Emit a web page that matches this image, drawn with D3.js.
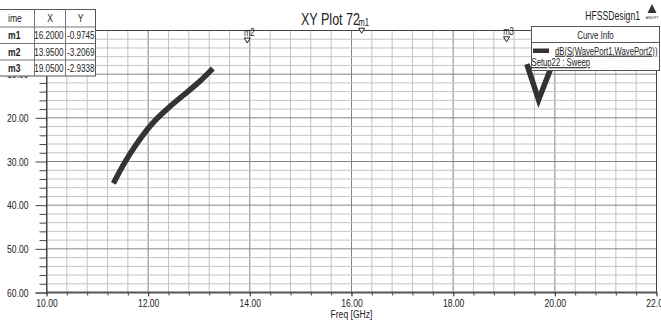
<!DOCTYPE html>
<html>
<head>
<meta charset="utf-8">
<script src="https://cdn.jsdelivr.net/npm/d3@7"></script>
<style>
  html, body { margin: 0; padding: 0; background: #fff; }
  svg { display: block; }
  text { font-family: "Liberation Sans", Arial, sans-serif; fill: #222; }
</style>
</head>
<body>
<script>
// Swept S-parameter trace, dB(S(WavePort1,WavePort2)) vs frequency
const lowBandFreq = [11.315, 11.545, 11.709, 12.037, 12.366, 12.693, 13.022, 13.272];
const lowBandDb   = [-35.0, -30.0, -27.0, -21.6, -18.0, -14.8, -11.7, -8.7];
const notchFreq   = [19.45, 19.68, 19.91, 19.98];
const notchDb     = [-7.7, -15.9, -9.0, -6.6];

// Marker table
const markerNames = ["m1", "m2", "m3"];
const markerFreq  = [16.2, 13.95, 19.05];
const markerDb    = [-0.9745, -3.2069, -2.9338];

// Axis ticks (the 0 dB label sits behind the marker table, so it is left blank)
const xTicks = [10, 12, 14, 16, 18, 20, 22];
const yTicks = [0, -10, -20, -30, -40, -50, -60];
const yTickLabels = ["", "10.00", "20.00", "30.00", "40.00", "50.00", "60.00"];

const W = 661, H = 320;
const plot = { left: 46.5, right: 656.5, top: 30.5, bottom: 292.5 };
const NARROW = 0.78; // condensed look for all labels

const svg = d3.select("body").append("svg").attr("width", W).attr("height", H);

// Text placed with a horizontal squeeze so it reads as a condensed face
function label(parent, px, py, str, size, opts = {}) {
  const sx = opts.sx || NARROW;
  return parent.append("text")
    .attr("transform", `translate(${px},${py}) scale(${sx},1)`)
    .attr("text-anchor", opts.anchor || "start")
    .attr("font-size", size)
    .attr("font-weight", opts.weight || "normal")
    .attr("text-decoration", opts.deco || null)
    .text(str);
}

const x = d3.scaleLinear().domain([10, 22]).range([plot.left, plot.right]);
const y = d3.scaleLinear().domain([0, -60]).range([plot.top, plot.bottom]);

// Fine grid: 0.4 GHz and 2 dB steps, heavier at the labelled ticks
const xMinor = d3.range(10, 22.0001, 0.4).map(v => +v.toFixed(2));
const yMinor = d3.range(0, -60.0001, -2);

const grid = svg.append("g");
grid.selectAll("line.vx").data(xMinor).join("line")
  .attr("x1", d => x(d)).attr("x2", d => x(d))
  .attr("y1", plot.top).attr("y2", plot.bottom)
  .attr("stroke", d => xTicks.includes(Math.round(d * 10) / 10) ? "#858585" : "#c4c4c4")
  .attr("stroke-width", 1);
grid.selectAll("line.hy").data(yMinor).join("line")
  .attr("x1", plot.left).attr("x2", plot.right)
  .attr("y1", d => y(d)).attr("y2", d => y(d))
  .attr("stroke", d => d % 10 === 0 ? "#858585" : "#c4c4c4")
  .attr("stroke-width", 1);

// Frame
svg.append("rect")
  .attr("x", plot.left).attr("y", plot.top)
  .attr("width", plot.right - plot.left).attr("height", plot.bottom - plot.top)
  .attr("fill", "none").attr("stroke", "#444").attr("stroke-width", 1);
svg.append("line")
  .attr("x1", plot.left).attr("x2", plot.right)
  .attr("y1", plot.bottom).attr("y2", plot.bottom)
  .attr("stroke", "#555").attr("stroke-width", 2);

// Y axis (left)
const yAxis = d3.axisLeft(y).tickValues(yTicks)
  .tickFormat((d, i) => yTickLabels[i]).tickSize(11).tickPadding(12);
const gy = svg.append("g").attr("transform", `translate(${plot.left},0)`).call(yAxis);
gy.select(".domain").attr("stroke", "#444");
gy.selectAll(".tick line").attr("stroke", "#444");
gy.selectAll(".tick text").attr("font-size", 11).attr("fill", "#222")
  .attr("transform", `scale(${NARROW},1)`);
const yMinorAxis = d3.axisLeft(y).tickValues(yMinor.filter(d => d % 10 !== 0))
  .tickFormat("").tickSize(7);
svg.append("g").attr("transform", `translate(${plot.left},0)`).call(yMinorAxis)
  .call(g => g.select(".domain").remove())
  .selectAll("line").attr("stroke", "#444");

// X axis (bottom)
const xAxis = d3.axisBottom(x).tickValues(xTicks)
  .tickFormat(d3.format(".2f")).tickSize(4).tickPadding(3);
const gx = svg.append("g").attr("transform", `translate(0,${plot.bottom})`).call(xAxis);
gx.select(".domain").remove();
gx.selectAll(".tick line").attr("stroke", "#444");
gx.selectAll(".tick text").attr("font-size", 11).attr("fill", "#222")
  .attr("transform", `scale(${NARROW},1)`);
const xMinorAxis = d3.axisBottom(x).tickValues(xMinor).tickFormat("").tickSize(3);
svg.append("g").attr("transform", `translate(0,${plot.bottom})`).call(xMinorAxis)
  .call(g => g.select(".domain").remove())
  .selectAll("line").attr("stroke", "#444");

label(svg, x(16), 317.5, "Freq [GHz]", 11, { anchor: "middle" });

// Trace
svg.append("clipPath").attr("id", "plotClip").append("rect")
  .attr("x", plot.left).attr("y", plot.top)
  .attr("width", plot.right - plot.left).attr("height", plot.bottom - plot.top);
const traceG = svg.append("g").attr("clip-path", "url(#plotClip)");
const lowLine = d3.line().x(d => x(d[0])).y(d => y(d[1])).curve(d3.curveBasis);
const notchLine = d3.line().x(d => x(d[0])).y(d => y(d[1])).curve(d3.curveLinear);
traceG.append("path").datum(d3.zip(lowBandFreq, lowBandDb))
  .attr("d", lowLine).attr("fill", "none").attr("stroke", "#333")
  .attr("stroke-width", 5.5);
traceG.append("path").datum(d3.zip(notchFreq, notchDb))
  .attr("d", notchLine).attr("fill", "none").attr("stroke", "#333")
  .attr("stroke-width", 5.5).attr("stroke-linejoin", "miter");

// Marker symbols with their names
const markerG = svg.append("g");
markerNames.forEach((name, i) => {
  const px = x(markerFreq[i]), py = y(markerDb[i]);
  const tipY = py - 1.5;
  markerG.append("path")
    .attr("d", `M${px - 3},${tipY - 5}L${px + 3},${tipY - 5}L${px},${tipY}Z`)
    .attr("fill", "#fff").attr("stroke", "#222").attr("stroke-width", 1);
  label(markerG, px + 2, tipY - 7, name, 10, { anchor: "middle" });
});

// Title and design name
label(svg, 330.5, 25, "XY Plot 72", 17, { anchor: "middle", sx: 0.74 });
label(svg, 640, 20, "HFSSDesign1", 12, { anchor: "end", sx: 0.72 });
svg.append("path").attr("d", "M652,4L656.5,13L647.5,13Z").attr("fill", "#333");
label(svg, 652, 18.5, "ANSOFT", 4, { anchor: "middle" });

// Marker table (top left)
const tbl = svg.append("g");
const colX = [-2, 34.5, 65.5, 95.5];
const rowY = [9.5, 27, 43.5, 60, 76];
tbl.append("rect").attr("x", colX[0]).attr("y", rowY[0])
  .attr("width", colX[3] - colX[0]).attr("height", rowY[4] - rowY[0])
  .attr("fill", "#fff").attr("stroke", "#555");
colX.slice(1, 3).forEach(cx => tbl.append("line")
  .attr("x1", cx).attr("x2", cx).attr("y1", rowY[0]).attr("y2", rowY[4]).attr("stroke", "#777"));
rowY.slice(1, 4).forEach(ry => tbl.append("line")
  .attr("x1", colX[0]).attr("x2", colX[3]).attr("y1", ry).attr("y2", ry).attr("stroke", "#777"));
const header = ["ime", "X", "Y"];
header.forEach((h, j) => label(tbl,
  j === 0 ? 8 : (colX[j] + colX[j + 1]) / 2, (rowY[0] + rowY[1]) / 2 + 4, h, 11,
  { anchor: j === 0 ? "start" : "middle" }));
markerNames.forEach((name, i) => {
  const cy = (rowY[i + 1] + rowY[i + 2]) / 2 + 4;
  label(tbl, 8, cy, name, 11, { weight: "bold" });
  label(tbl, colX[2] - 2, cy, markerFreq[i].toFixed(4), 11, { anchor: "end", sx: 0.74 });
  label(tbl, colX[3] - 1, cy, markerDb[i].toFixed(4), 11, { anchor: "end", sx: 0.74 });
});

// Curve info legend
const lg = svg.append("g");
lg.append("rect").attr("x", 531.5).attr("y", 26.5).attr("width", 128).attr("height", 44)
  .attr("fill", "#fff").attr("stroke", "#555");
lg.append("line").attr("x1", 531.5).attr("x2", 659.5).attr("y1", 42.5).attr("y2", 42.5)
  .attr("stroke", "#555");
label(lg, 595.5, 38.5, "Curve Info", 11, { anchor: "middle", sx: 0.72 });
lg.append("rect").attr("x", 533).attr("y", 48.5).attr("width", 16).attr("height", 4.5)
  .attr("fill", "#333");
label(lg, 555, 54.5, "dB(S(WavePort1,WavePort2))", 11, { deco: "underline", sx: 0.7 });
label(lg, 531.5, 66, "Setup22 : Sweep", 11, { deco: "underline", sx: 0.7 });
</script>
</body>
</html>
